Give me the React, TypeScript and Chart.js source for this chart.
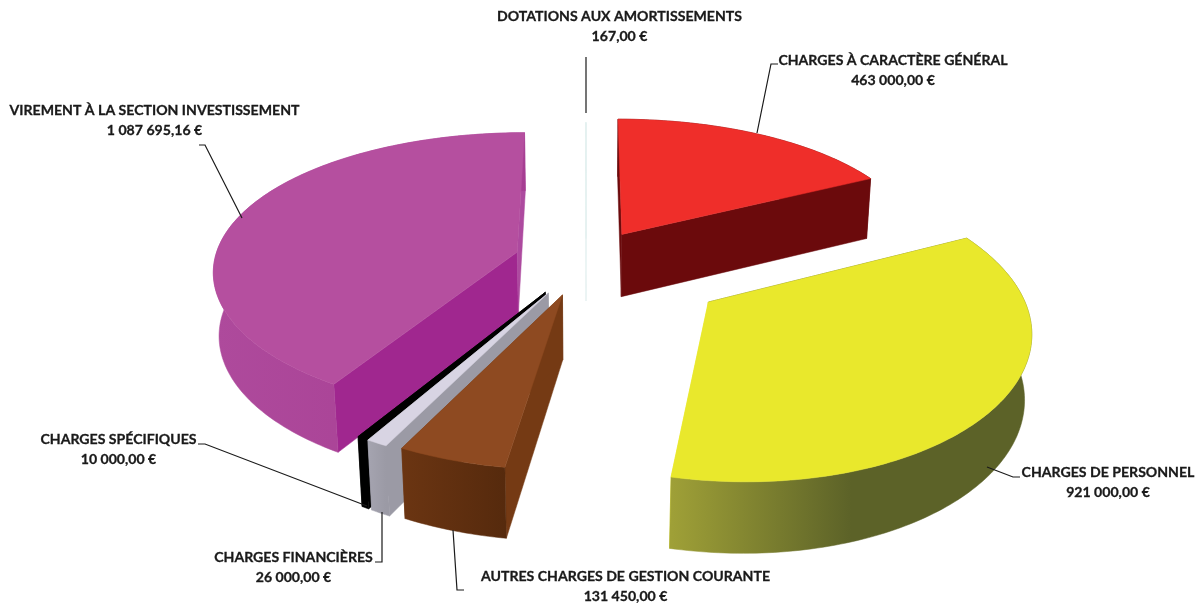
import React, { useEffect, useRef } from "react";
import { Chart, registerables } from "chart.js";

Chart.register(...registerables);

const categories = [
  "CHARGES À CARACTÈRE GÉNÉRAL",
  "CHARGES DE PERSONNEL",
  "AUTRES CHARGES DE GESTION COURANTE",
  "CHARGES FINANCIÈRES",
  "CHARGES SPÉCIFIQUES",
  "VIREMENT À LA SECTION INVESTISSEMENT",
  "DOTATIONS AUX AMORTISSEMENTS",
];
const amounts = [463000, 921000, 131450, 26000, 10000, 1087695.16, 167];
const amountLabels = [
  "463 000,00 €",
  "921 000,00 €",
  "131 450,00 €",
  "26 000,00 €",
  "10 000,00 €",
  "1 087 695,16 €",
  "167,00 €",
];
const explode = [70, 146, 75, 77, 77, 72, 50];
const rimBulge = [0, 0.03, 0, 0, 0, 0, 0];
const topColors = ["#EF2E2A", "#E9E82C", "#8E4A21", "#D8D4E3", "#000000", "#B54F9F", "#E4F1F0"];
const startWallColors = ["#6B0A0C", "#5C6228", "#753A14", "#9B9AA5", "#000000", "#A0278F", "#E4F1F0"];
const endWallColors = ["#6B0A0C", "#E9E82C", "#753A14", "#9B9AA5", "#000000", "#AD4A9F", "#E4F1F0"];
const outerWallStops: [number, string][][] = [
  [[0, "#6B0A0C"], [1, "#6B0A0C"]],
  [[0, "#9FA037"], [0.5, "#5C6228"], [1, "#5C6228"]],
  [[0, "#6B3512"], [1, "#562A0D"]],
  [[0, "#A5A4B0"], [1, "#9B9AA5"]],
  [[0, "#000000"], [1, "#000000"]],
  [[0, "#AE4A9C"], [1, "#A63D92"]],
  [[0, "#E4F1F0"], [1, "#E4F1F0"]],
];
const paintOrder = [6, 0, 5, 4, 3, 2, 1];

const labelCentres = [
  [893, 60],
  [1108, 472],
  [625.5, 576],
  [293.5, 557],
  [118.5, 439],
  [154.5, 110],
  [619.5, 16],
];
const leaderLines = [
  [[757, 133], [771, 64], [778, 64]],
  [[987, 467], [1013, 477], [1020, 477]],
  [[453, 530], [457, 590], [464, 590]],
  [[382, 512], [382, 562], [375, 562]],
  [[367, 506], [205, 444], [198, 444]],
  [[242, 218], [205, 145], [199, 145]],
  [[586, 57], [586, 113]],
];

const PLANE_RADIUS = 303;
const CX = 586;
const CY = 261;
const KY = 1147;
const QY = 215;
const G = 0.0004;
const NADIR_X = 586;
const NADIR_Y = 4400;
const DEPTH = 0.0153;

type P = [number, number];
const project = (u: number, v: number): P => {
  const s = 1 / (1 - G * v);
  const d = s - 1;
  return [CX + u * s, CY + KY * d + QY * d * d];
};
const lower = (p: P): P => {
  const s = 1 + (p[1] - CY) / KY;
  const t = DEPTH * s;
  return [p[0] + (NADIR_X - p[0]) * t, p[1] + (NADIR_Y - p[1]) * t];
};

const poly = (ctx: CanvasRenderingContext2D, pts: P[], fill: string | CanvasGradient) => {
  ctx.beginPath();
  pts.forEach((p, i) => (i ? ctx.lineTo(p[0], p[1]) : ctx.moveTo(p[0], p[1])));
  ctx.closePath();
  ctx.fillStyle = fill;
  ctx.fill();
  ctx.strokeStyle = fill;
  ctx.lineWidth = 0.5;
  ctx.stroke();
};

const pie3d = {
  id: "pie3d",
  beforeDatasetsDraw(chart: any) {
    const ctx: CanvasRenderingContext2D = chart.ctx;
    const arcs = chart.getDatasetMeta(0).data;
    ctx.save();
    paintOrder.forEach((i) => {
      const arc = arcs[i];
      const a0 = arc.startAngle;
      const a1 = arc.endAngle;
      const mid = (a0 + a1) / 2;
      const off = arc.options.offset;
      const ou = Math.cos(mid) * off;
      const ov = Math.sin(mid) * off;
      const apex = project(ou, ov);
      const steps = Math.max(2, Math.ceil(((a1 - a0) * 180) / Math.PI));
      const rim: P[] = [];
      for (let k = 0; k <= steps; k++) {
        const f = k / steps;
        const a = a0 + (a1 - a0) * f;
        const r = PLANE_RADIUS * (1 + rimBulge[i] * Math.sin(Math.PI * Math.pow(f, 1.5)));
        rim.push(project(ou + r * Math.cos(a), ov + r * Math.sin(a)));
      }
      const first = rim[0];
      const last = rim[rim.length - 1];
      poly(ctx, [apex, first, lower(first), lower(apex)], startWallColors[i]);
      poly(ctx, [apex, last, lower(last), lower(apex)], endWallColors[i]);
      const xs = rim.map((p) => p[0]);
      const stops = outerWallStops[i];
      const g = ctx.createLinearGradient(Math.min(...xs), 0, Math.max(...xs), 0);
      stops.forEach(([o, c]) => g.addColorStop(o, c));
      poly(ctx, [...rim, ...rim.map(lower).reverse()], g);
      poly(ctx, [apex, ...rim], arc.options.backgroundColor);
      if (i === 6) {
        ctx.beginPath();
        ctx.moveTo(apex[0], apex[1]);
        ctx.lineTo(last[0], last[1]);
        ctx.strokeStyle = topColors[6];
        ctx.lineWidth = 1;
        ctx.stroke();
      }
    });

    ctx.strokeStyle = "#1a1a1a";
    ctx.lineWidth = 1.2;
    leaderLines.forEach((line) => {
      ctx.beginPath();
      line.forEach((p, k) => (k ? ctx.lineTo(p[0], p[1]) : ctx.moveTo(p[0], p[1])));
      ctx.stroke();
    });

    ctx.fillStyle = "#1a1a1a";
    ctx.strokeStyle = "#1a1a1a";
    ctx.lineWidth = 0.3;
    ctx.font = "bold 14.1px Lato";
    ctx.textAlign = "center";
    ctx.textBaseline = "middle";
    chart.data.labels.forEach((name: string, i: number) => {
      const [x, y] = labelCentres[i];
      ctx.fillText(name, x, y);
      ctx.strokeText(name, x, y);
      ctx.fillText(amountLabels[i], x, y + 20);
      ctx.strokeText(amountLabels[i], x, y + 20);
    });
    ctx.restore();
    return false;
  },
};

export default function App() {
  const ref = useRef<HTMLCanvasElement>(null);
  useEffect(() => {
    if (!ref.current) return;
    const chart = new Chart(ref.current, {
      type: "pie",
      data: {
        labels: categories,
        datasets: [
          {
            data: amounts,
            backgroundColor: topColors,
            offset: explode,
            borderWidth: 0,
          },
        ],
      },
      options: {
        animation: false,
        responsive: false,
        plugins: { legend: { display: false }, tooltip: { enabled: false } },
      },
      plugins: [pie3d],
    } as any);
    return () => chart.destroy();
  }, []);
  return (
    <div style={{ position: "absolute", left: 0, top: 0, width: 1197, height: 604, background: "#fff" }}>
      <canvas ref={ref} width={1197} height={604} style={{ display: "block" }} />
    </div>
  );
}
